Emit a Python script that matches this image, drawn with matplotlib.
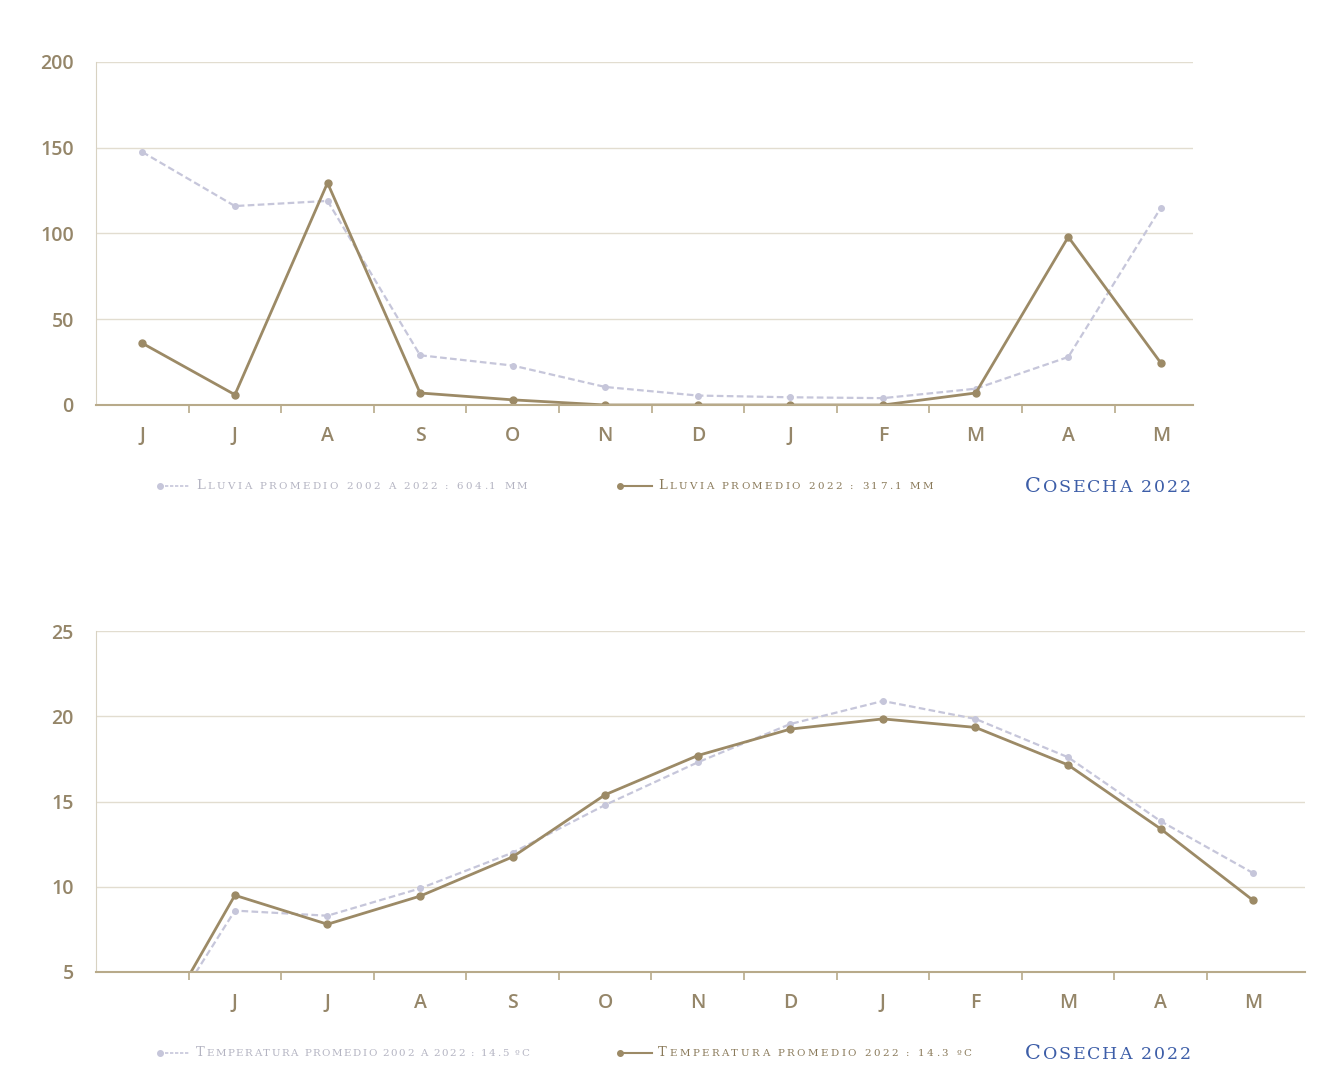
import numpy as np
import matplotlib.pyplot as plt
from matplotlib.lines import Line2D

# lluvia (mm), junio a mayo
meses_lluvia = ["J", "J", "A", "S", "O", "N", "D", "J", "F", "M", "A", "M"]
lluvia_prom = [147.5, 116, 119, 29, 23, 10.5, 5.5, 4.5, 4, 9.5, 28, 115]
lluvia_2022 = [36, 6, 129.5, 7, 3, 0, 0, 0, 0, 7, 98, 24.5]

# temperatura (C), primera categoria vacia
meses_temp = ["", "J", "J", "A", "S", "O", "N", "D", "J", "F", "M", "A", "M"]
temp_prom = [0, 8.6, 8.3, 9.9, 12.0, 14.8, 17.3, 19.55, 20.9, 19.85, 17.6, 13.85, 10.8]
temp_2022 = [0, 9.5, 7.8, 9.45, 11.75, 15.4, 17.7, 19.25, 19.85, 19.35, 17.15, 13.4, 9.2]

SOLID = "#9c8a66"
DASH = "#c6c6da"
TICK = "#958669"
SPINE = "#b8aa8a"
GRID = "#e2ddd0"
GREYTXT = "#b4b4c2"
BROWNTXT = "#8a7a5a"
BLUE = "#3d5ea8"
SERIF = "DejaVu Serif"

fig = plt.figure(figsize=(13.3, 10.82), dpi=100)


def style_axes(ax, cats, yticks, ylim, xmax):
    x = np.arange(len(cats))
    ax.set_xlim(-0.5, xmax)
    ax.set_ylim(*ylim)
    ax.set_xticks(x)
    ax.set_xticklabels(cats)
    ax.set_xticks(x[:-1] + 0.5, minor=True)
    ax.tick_params(axis="x", which="major", length=0, pad=15,
                   labelsize=14, labelcolor=TICK)
    ax.tick_params(axis="x", which="minor", length=6, width=1.2, color=SPINE)
    ax.set_yticks(yticks)
    ax.tick_params(axis="y", length=0, pad=16, labelsize=14, labelcolor=TICK)
    for lab in ax.get_xticklabels() + ax.get_yticklabels():
        lab.set_fontweight("semibold")
        lab.set_family("Open Sans")
    ax.grid(axis="y", color=GRID, linewidth=1)
    ax.set_axisbelow(True)
    for s in ["top", "right"]:
        ax.spines[s].set_visible(False)
    ax.spines["left"].set_color("#d8d2c2")
    ax.spines["bottom"].set_color(SPINE)
    ax.spines["bottom"].set_linewidth(1.5)


def small_caps(x, y, text, color, big, small, track):
    # versalitas: las mayusculas del texto van grandes, el resto en
    # mayuscula pequena, con espaciado entre letras
    t = None
    gap = 0
    for ch in text:
        if ch == " ":
            gap += small * 0.32 + track
            continue
        size = big if ch.isupper() else small
        ch = ch.upper()
        if t is None:
            t = fig.text(x, y, ch, fontsize=size, color=color, family=SERIF,
                         va="baseline", ha="left")
        else:
            t = ax1.annotate(ch, xy=(1, y), xycoords=(t, "figure fraction"),
                             xytext=(track + gap, 0), textcoords="offset points",
                             fontsize=size, color=color, family=SERIF,
                             va="baseline", ha="left", annotation_clip=False)
        gap = 0


def legend_line(x0, x1, y, color, ls, lw):
    ln = Line2D([x0, x1], [y, y], transform=fig.transFigure, color=color,
                linestyle=ls, linewidth=lw, marker="o", markersize=4,
                markevery=[0])
    fig.add_artist(ln)


# ---- lluvia ----
ax1 = fig.add_axes([0.0722, 0.6257, 0.825, 0.317])
x1 = np.arange(len(meses_lluvia))
ax1.plot(x1, lluvia_prom, color=DASH, linestyle=(0, (3, 1.5)), linewidth=1.6,
         marker="o", markersize=4)
ax1.plot(x1, lluvia_2022, color=SOLID, linewidth=2, marker="o", markersize=5)
style_axes(ax1, meses_lluvia, [0, 50, 100, 150, 200], (0, 200), 11.35)

# ---- temperatura ----
ax2 = fig.add_axes([0.0722, 0.1017, 0.909, 0.315])
x2 = np.arange(len(meses_temp))
ax2.plot(x2, temp_prom, color=DASH, linestyle=(0, (3, 1.5)), linewidth=1.6,
         marker="o", markersize=4)
ax2.plot(x2, temp_2022, color=SOLID, linewidth=2, marker="o", markersize=5)
style_axes(ax2, meses_temp, [5, 10, 15, 20, 25], (5, 25), 12.56)

# ---- leyendas ----
y_top = 1 - 489 / 1082
legend_line(160 / 1330, 190 / 1330, y_top + 0.003, DASH, (0, (2, 1)), 1.2)
small_caps(196 / 1330, y_top, "Lluvia promedio 2002 a 2022 : 604.1 mm",
           GREYTXT, 9.5, 7.4, 1.75)
legend_line(620 / 1330, 652 / 1330, y_top + 0.003, SOLID, "-", 1.5)
small_caps(658 / 1330, y_top, "Lluvia promedio 2022 : 317.1 mm",
           BROWNTXT, 9.5, 7.4, 1.77)
small_caps(1025 / 1330, 1 - 492 / 1082, "Cosecha 2022", BLUE, 15, 12.5, 1.3)

y_bot = 1 - 1056 / 1082
legend_line(160 / 1330, 190 / 1330, y_bot + 0.003, DASH, (0, (2, 1)), 1.2)
small_caps(196 / 1330, y_bot, "Temperatura promedio 2002 a 2022 : 14.5 ºc",
           GREYTXT, 9.5, 7.4, 1.1)
legend_line(620 / 1330, 652 / 1330, y_bot + 0.003, SOLID, "-", 1.5)
small_caps(658 / 1330, y_bot, "Temperatura promedio 2022 : 14.3 ºc",
           BROWNTXT, 9.5, 7.4, 1.77)
small_caps(1025 / 1330, 1 - 1059 / 1082, "Cosecha 2022", BLUE, 15, 12.5, 1.3)

fig.savefig("out.png", dpi=100)
